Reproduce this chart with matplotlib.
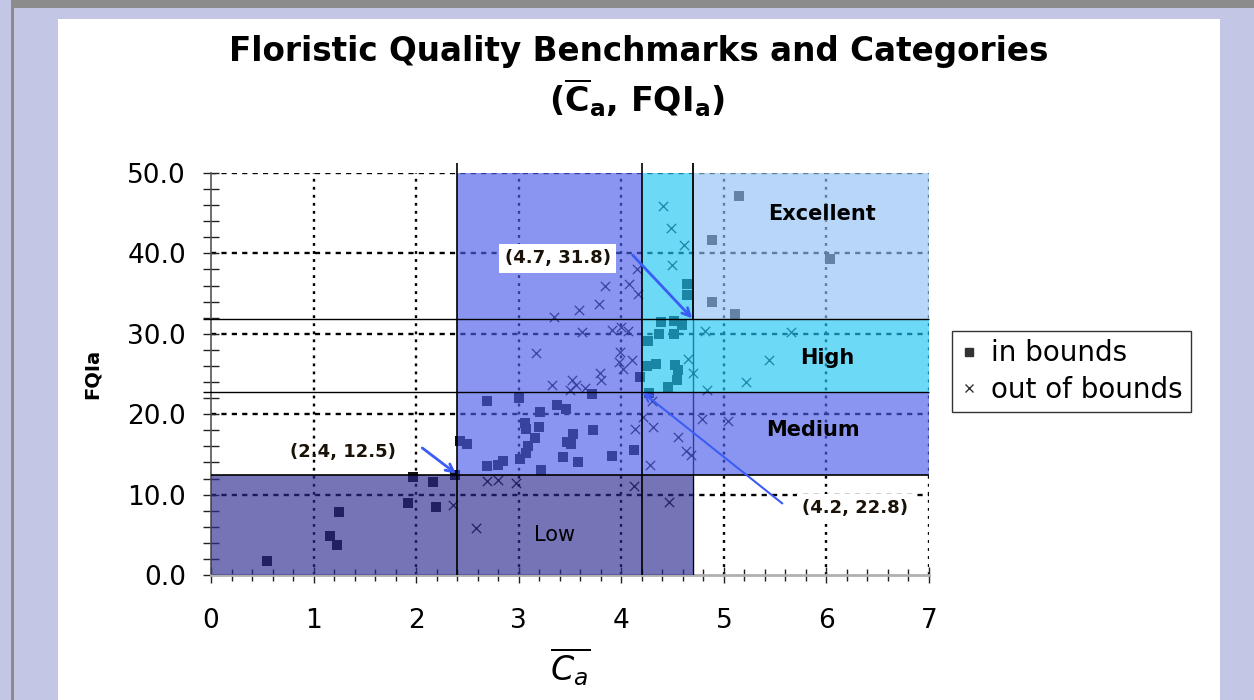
import matplotlib
matplotlib.use("Agg")
import matplotlib.pyplot as plt
from matplotlib.patches import Polygon, Rectangle
from matplotlib.lines import Line2D
from matplotlib.ticker import MultipleLocator, FormatStrFormatter

# benchmarks: mean C and FQI
c_bench = [2.4, 4.2, 4.7]
fqi_bench = [12.5, 22.8, 31.8]
c_max, fqi_max = 7, 50

categories = ["Low", "Medium", "High", "Excellent"]
cat_colors = ["#29298f", "#4b5deb", "#1dc6f4", "#92c0f3"]
cat_label_pos = [(3.35, 5.0), (5.87, 18.0), (6.01, 27.0), (5.96, 44.9)]
cat_label_weight = ["normal", "bold", "bold", "bold"]

# sites inside the calibration bounds
in_c = [0.55, 1.16, 1.23, 1.25, 1.92, 1.97, 2.16, 2.19, 2.38,
        2.43, 2.50, 2.69, 2.80, 2.85, 2.69, 3.00, 3.01, 3.07, 3.09, 3.16,
        3.06, 3.07, 3.20, 3.21, 3.22, 3.37, 3.46, 3.43, 3.47, 3.51, 3.53,
        3.58, 3.71, 3.72, 3.91, 4.12,
        4.18, 4.26, 4.37, 4.51, 4.39, 4.51, 4.59, 4.25, 4.34, 4.52, 4.55,
        4.54, 4.46, 4.27, 4.64, 4.64,
        5.15, 4.88, 6.03, 4.88, 5.11]
in_fqi = [1.7, 4.9, 3.7, 7.8, 9.0, 12.2, 11.6, 8.4, 12.5,
          16.7, 16.3, 13.5, 13.7, 14.2, 21.7, 22.0, 14.4, 15.2, 16.1, 17.0,
          18.9, 18.2, 18.4, 20.3, 13.1, 21.1, 20.7, 14.7, 16.5, 16.3, 17.5,
          14.1, 22.5, 18.0, 14.8, 15.6,
          24.6, 29.1, 30.0, 30.0, 31.5, 31.6, 31.1, 26.0, 26.2, 26.1, 25.5,
          24.3, 23.4, 22.6, 36.2, 34.8,
          47.2, 41.7, 39.3, 34.0, 32.5]

# sites outside the calibration bounds
out_c = [2.36, 2.58, 2.69, 2.80, 2.97, 3.17, 3.32, 3.34, 3.50, 3.52,
         3.56, 3.59, 3.62, 3.65, 3.78, 3.79, 3.80, 3.84, 3.91, 4.00,
         4.07, 3.99, 4.02, 3.98, 4.10, 4.08, 4.15, 4.16, 4.12, 4.13,
         4.21, 4.30, 4.31, 4.28, 4.47, 4.55, 4.63, 4.68, 4.79, 5.04,
         4.84, 5.22, 5.44, 4.65, 4.70, 4.82, 5.65, 4.41, 4.48, 4.61, 4.49]
out_fqi = [8.7, 5.9, 11.7, 11.8, 11.4, 27.6, 23.6, 32.1, 23.0, 24.2,
           23.6, 32.9, 30.2, 23.2, 33.7, 25.1, 24.3, 35.9, 30.5, 30.9,
           30.4, 27.7, 25.6, 26.5, 26.8, 36.2, 38.0, 35.0, 11.1, 18.1,
           19.6, 21.6, 18.4, 13.7, 9.1, 17.2, 15.4, 14.9, 19.4, 19.1,
           23.0, 24.0, 26.8, 26.9, 25.1, 30.3, 30.2, 45.9, 43.2, 41.0, 38.6]

# benchmark call-outs: label centre and arrow tail
callout_text_pos = [(1.29, 15.3), (6.28, 8.3), (3.38, 39.4)]
callout_tail_pos = [(2.06, 15.8), (5.57, 8.9), (4.11, 39.8)]
callout_box = [False, True, True]
callout_lw = [2.0, 1.5, 2.0]

fig = plt.figure(figsize=(12.54, 7.0), dpi=100, facecolor="#c3c7e5")
# white page + grey frame edges
fig.patches.append(Rectangle((58 / 1254, 0), 1162 / 1254, 681 / 700, transform=fig.transFigure,
                             facecolor="white", edgecolor="none", zorder=-2))
fig.patches.append(Rectangle((11 / 1254, 692 / 700), 1, 8 / 700, transform=fig.transFigure,
                             facecolor="#8c8c8c", edgecolor="none", zorder=-2))
fig.patches.append(Rectangle((11 / 1254, 0), 3 / 1254, 1, transform=fig.transFigure,
                             facecolor="#8c8c8c", edgecolor="none", zorder=-2))

ax = fig.add_axes([211 / 1254, 125 / 700, 718 / 1254, 402 / 700])
ax.set_facecolor("none")
ax.set_xlim(0, c_max)
ax.set_ylim(0, fqi_max)

# dotted grid (under the shaded categories)
for v in range(1, c_max + 1):
    ax.axvline(v, color="#000000", lw=1.7, ls=(0, (1.2, 2.2)), zorder=1)
for v in range(10, fqi_max + 1, 10):
    ax.axhline(v, color="#000000", lw=1.7, ls=(0, (2.2, 2.2)), zorder=1)

ax.scatter(in_c, in_fqi, marker="s", s=55, color="#111111", lw=0, zorder=2)
ax.scatter(out_c, out_fqi, marker="x", s=45, color="#111111", lw=0.9, zorder=2)

a, b, c = c_bench
lo, md, hi = fqi_bench
regions = [
    [(0, 0), (c, 0), (c, lo), (0, lo)],
    [(a, lo), (c_max, lo), (c_max, md), (b, md), (b, fqi_max), (a, fqi_max)],
    [(b, md), (c_max, md), (c_max, hi), (c, hi), (c, fqi_max), (b, fqi_max)],
    [(c, hi), (c_max, hi), (c_max, fqi_max), (c, fqi_max)],
]
for verts, col in zip(regions, cat_colors):
    ax.add_patch(Polygon(verts, closed=True, facecolor=col, alpha=0.65,
                         edgecolor="none", zorder=3))

# benchmark lines
ax.hlines(fqi_bench[1:], -0.08, c_max, colors="k", lw=1, zorder=4, clip_on=False)
ax.hlines(fqi_bench[0], 0, c_max, colors="k", lw=1.2, zorder=4)
ax.vlines(c_bench[:2], 0, 51.3, colors="k", lw=1.2, zorder=4, clip_on=False)
ax.vlines(c_bench[2], hi, 51.3, colors="k", lw=1.3, zorder=4, clip_on=False)
ax.vlines(c_bench[2], 0, hi, colors="k", lw=1, zorder=2.6)

for name, pos, w in zip(categories, cat_label_pos, cat_label_weight):
    ax.text(pos[0], pos[1], name, ha="center", va="center", fontsize=15,
            fontweight=w, zorder=6)

bench_pts = [(a, lo), (b, md), (c, hi)]
for pt, tpos, tail, boxed, lw in zip(bench_pts, callout_text_pos, callout_tail_pos,
                                     callout_box, callout_lw):
    bbox = dict(boxstyle="square,pad=0.3", fc="white", ec="none") if boxed else None
    ax.text(tpos[0], tpos[1], f"({pt[0]}, {pt[1]})", ha="center", va="center",
            fontsize=13, fontweight="bold", color="#1a1208", bbox=bbox, zorder=7)
    ax.annotate("", xy=pt, xytext=tail, zorder=7,
                arrowprops=dict(arrowstyle="->", color="#3b5cf5", lw=lw,
                                shrinkA=0, shrinkB=1, mutation_scale=14))

# axes styling
for s in ["top", "right"]:
    ax.spines[s].set_visible(False)
ax.spines["left"].set_color("#555555")
ax.spines["left"].set_linewidth(1.2)
ax.spines["bottom"].set_color("#b0b0b0")
ax.spines["bottom"].set_linewidth(2)

ax.xaxis.set_major_locator(MultipleLocator(1))
ax.xaxis.set_minor_locator(MultipleLocator(0.2))
ax.yaxis.set_major_locator(MultipleLocator(10))
ax.yaxis.set_minor_locator(MultipleLocator(2))
ax.yaxis.set_major_formatter(FormatStrFormatter("%.1f"))
ax.tick_params(which="both", direction="inout", color="#222222", width=1)
ax.tick_params(axis="y", which="both", length=12, labelsize=19, pad=12)
ax.tick_params(axis="x", which="major", length=12, labelsize=19, pad=18)
ax.tick_params(axis="x", which="minor", length=9)

ax.set_ylabel("FQIa", fontsize=14, fontweight="bold")
ax.yaxis.set_label_coords(-0.152, 0.5)
ax.set_xlabel(r"$\overline{C_a}$", fontsize=24, labelpad=8)

fig.text(0.509, 0.926, "Floristic Quality Benchmarks and Categories",
         ha="center", va="center", fontsize=23.5, fontweight="bold")
fig.text(0.508, 0.861, r"($\mathbf{\overline{C}_{a}}$, FQI$_\mathbf{a}$)",
         ha="center", va="center", fontsize=24, fontweight="bold")

handles = [Line2D([], [], marker="s", ls="none", color="#333333", markersize=6),
           Line2D([], [], marker="x", ls="none", color="#333333", markersize=6, mew=1)]
fig.legend(handles, ["in bounds", "out of bounds"], loc="upper left",
           bbox_to_anchor=(952 / 1254, 1 - 331 / 700), fontsize=20, frameon=True,
           fancybox=False, edgecolor="#333333", framealpha=1, borderaxespad=0,
           handlelength=0.6, handletextpad=0.5, borderpad=0.3, labelspacing=0.3)

fig.savefig("out.png", dpi=100, facecolor=fig.get_facecolor())
